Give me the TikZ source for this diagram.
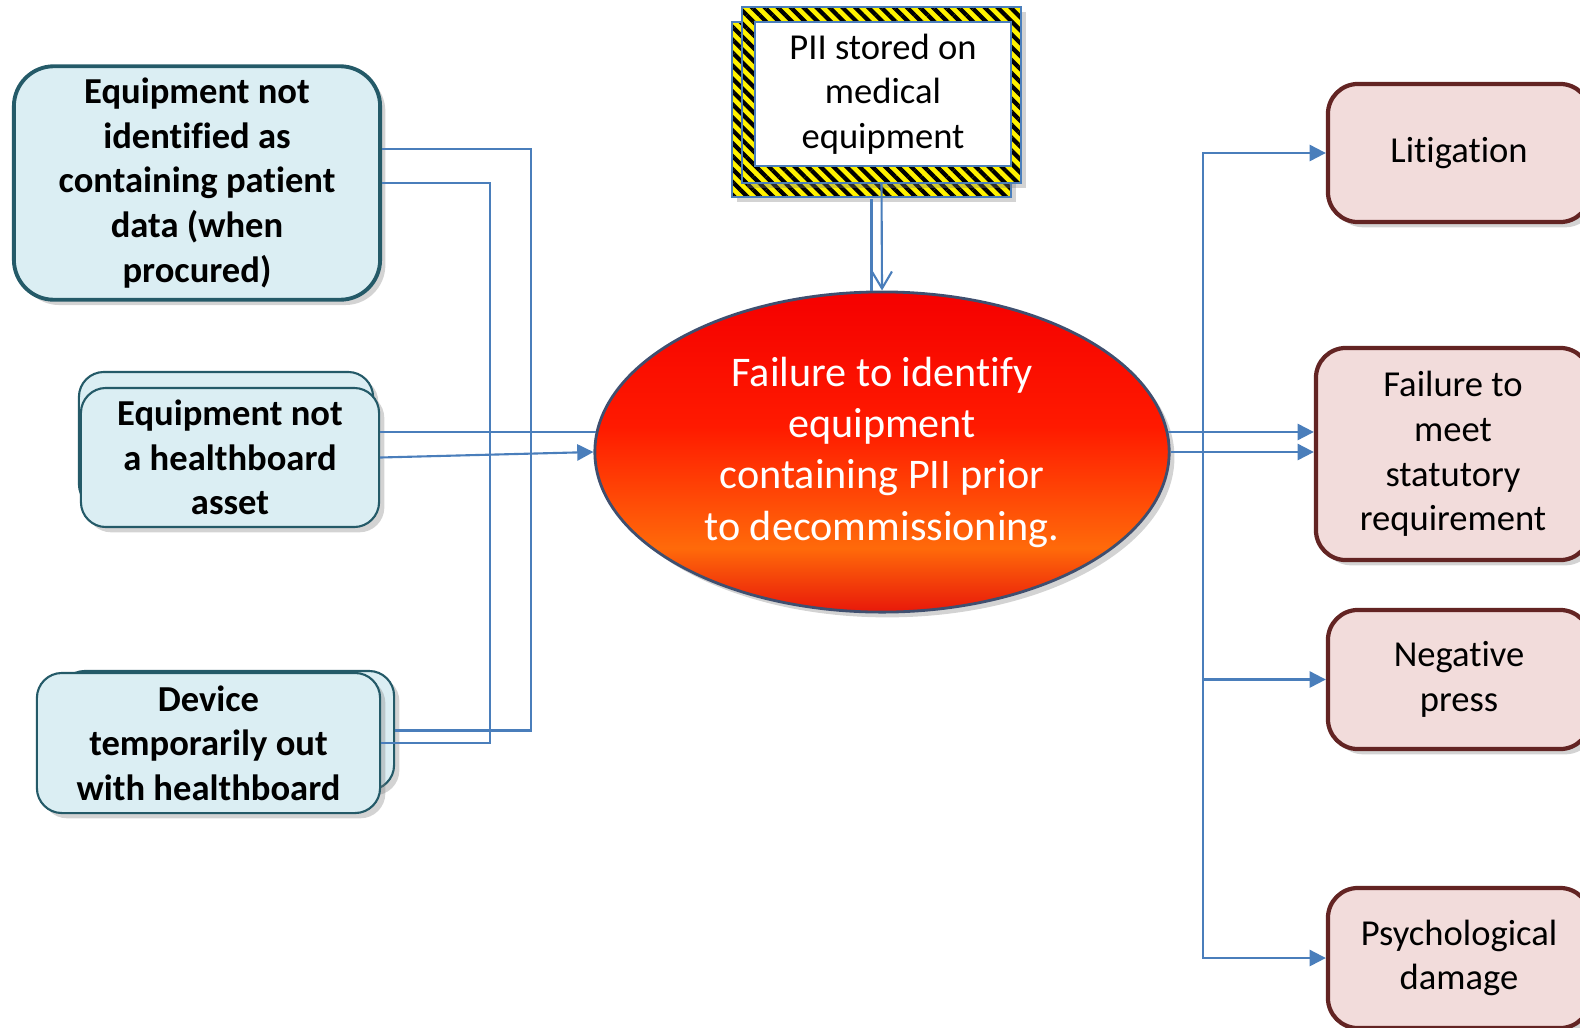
\documentclass[tikz,border=0pt]{standalone}
\usepackage{fontspec}
\setmainfont{Carlito}[Ligatures=NoCommon]
\usepackage{xcolor}
\usepackage{tikz}
\usetikzlibrary{shapes, arrows.meta, positioning, calc, shadows, patterns.meta}

\definecolor{linkblue}{HTML}{4A7EBB}
\definecolor{tealline}{HTML}{245A68}
\definecolor{bluefill}{HTML}{DBEEF3}
\definecolor{rosefill}{HTML}{F2DCDB}
\definecolor{roseline}{HTML}{632423}
\definecolor{fireedge}{HTML}{E8180A}
\definecolor{fireorange}{HTML}{FF6A0A}
\definecolor{firered}{HTML}{FF1A00}
\definecolor{firetop}{HTML}{F50000}
\definecolor{ellline}{HTML}{3F4F6F}

\pgfdeclareverticalshading{fireshade}{100bp}{color(0bp)=(fireedge); color(25bp)=(fireedge); color(35bp)=(fireorange); color(54bp)=(firered); color(75bp)=(firetop); color(100bp)=(firetop)}

\begin{document}
\begin{tikzpicture}[x=0.01cm,y=-0.01cm,>={Triangle[length=4.6pt,width=4.6pt]},
            link/.style={draw=linkblue, line width=0.6pt},
            shade/.style={drop shadow={opacity=0.35, shadow xshift=1.5pt, shadow yshift=-1.5pt}},
            cause/.style={shade, draw=tealline, line width=0.6pt, fill=bluefill, rounded corners=0.25cm,
                align=center, font=\fontsize{10.4}{12.7}\selectfont\bfseries},
            effect/.style={shade, draw=roseline, line width=1.2pt, fill=rosefill, rounded corners=0.3cm,
                align=center, minimum width=2.62cm, font=\fontsize{10.4}{12.7}\selectfont},
            hazard/.style={shade, draw=linkblue, line width=0.5pt, preaction={fill=yellow},
                pattern={Lines[angle=-45,distance=2.6pt,line width=1.2pt]}, pattern color=black},
            fire/.style={shade, ellipse, draw=ellline, line width=0.8pt, shading=fireshade, text=white,
                align=center, inner sep=0pt, font=\fontsize{12}{14.6}\selectfont}]
            \useasboundingbox (0,0) rectangle (1580,1027);

            % left side
            \node[cause, line width=1.1pt, rounded corners=0.4cm, minimum width=3.66cm, minimum height=2.28cm]
                (cause1) at (197,183) {Equipment not\\identified as\\containing patient\\data (when\\procured)};
            \node[cause, minimum width=2.94cm, minimum height=1.37cm] (cause2back) at (226,440.5) {};
            \node[cause, minimum width=2.98cm, minimum height=1.39cm] (cause2) at (230,457.5) {Equipment not\\a healthboard\\asset};
            \node[cause, minimum width=3.34cm, minimum height=1.19cm] (cause3back) at (227,730.5) {};
            \node[cause, minimum width=3.43cm, minimum height=1.40cm] (cause3) at (208.5,743) {Device\\temporarily out\\with healthboard};

            % top
            \node[hazard, minimum width=2.79cm, minimum height=1.75cm] (piiback) at (871.5,109.5) {};
            \node[hazard, minimum width=2.79cm, minimum height=1.76cm] (piiframe) at (881.5,95) {};
            \node[draw=linkblue, line width=0.6pt, fill=white, align=center, minimum width=2.56cm, minimum height=1.42cm,
                font=\fontsize{10.4}{12.7}\selectfont] (pii) at (883,94) {PII stored on\\medical\\equipment};

            % centre
            \node[fire, minimum width=5.74cm, minimum height=3.2cm] (fail) at (882,452)
                {Failure to identify\\equipment\\containing PII prior\\to decommissioning.};

            % right side
            \node[effect, minimum height=1.38cm] (lit) at (1459,153) {Litigation};
            \node[effect, minimum width=2.74cm, minimum height=2.12cm] (stat) at (1453,454) {Failure to\\meet\\statutory\\requirement};
            \node[effect, minimum height=1.39cm] (press) at (1459,679.5) {Negative\\press};
            \node[effect, minimum height=1.40cm] (psych) at (1459,958) {Psychological\\damage};

            % connectors
            \draw[link] ([yshift=0.34cm]cause1.east) -- ++(149,0) |- (cause3back.east);
            \draw[link] (cause1.east) -- ++(108,0) |- (cause3.east);
            \draw[link] (cause2.east |- fail.176) -- (fail.176);
            \draw[link,->] (cause2.east) -- (fail.west);

            \draw[link] (piiback.south) -- (piiback.south |- fail.north);
            \draw[link,-{Straight Barb[length=4.8pt,width=5.7pt]}] (piiframe.south) -- (fail.north);

            \coordinate (split) at (1203,432);
            \draw[link,->] (fail.4) -- (stat.west |- fail.4);
            \draw[link,->] (fail.east) -- (stat.west |- fail.east);
            \draw[link,->] (split) |- (lit.west);
            \draw[link,->] (split) |- (press.west);
            \draw[link,->] (split) |- (psych.west);
        \end{tikzpicture}
\end{document}
